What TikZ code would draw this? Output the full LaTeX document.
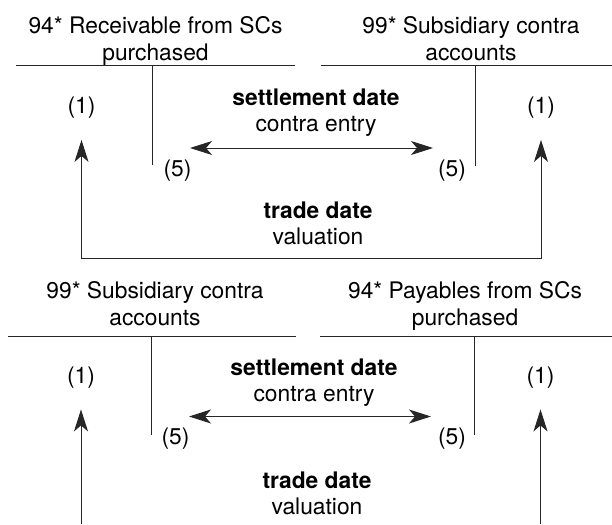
\documentclass[tikz,border=0pt]{standalone}
\usepackage{fontspec}
\setmainfont{TeX Gyre Heros}
\usetikzlibrary{arrows.meta}

\begin{document}
\begin{tikzpicture}[x=1pt,y=-1pt,
    font=\fontsize{22.8}{26.5}\selectfont,
    tline/.style={line width=1pt,black!85},
    arr/.style={line width=1pt,black!85,-{Stealth[length=22pt,width=14pt,inset=6pt]}},
    dbl/.style={line width=1pt,black!85,{Stealth[length=22pt,width=14pt,inset=6pt]}-{Stealth[length=22pt,width=14pt,inset=6pt]}}]

  \useasboundingbox (0,0) rectangle (612,524);

  % account titles and the two notes
  \begin{scope}[every node/.style={align=center,anchor=north,inner sep=0pt}]
    \node (accA) at (155.5,16.5) {94* Receivable from SCs\\purchased};
    \node (accB) at (471,16.5)   {99* Subsidiary contra\\accounts};
    \node (accC) at (155,281.5)  {99* Subsidiary contra\\accounts};
    \node (accD) at (465,281.5)  {94* Payables from SCs\\purchased};

    \node (setA)   at (316,88.5)  {\textbf{settlement date}\\contra entry};
    \node (tradeA) at (318,201.5) {\textbf{trade date}\\valuation};
    \node (setB)   at (314,358.5) {\textbf{settlement date}\\contra entry};
    \node (tradeB) at (317,471.5) {\textbf{trade date}\\valuation};
  \end{scope}

  % T-accounts
  \draw[tline] (16,66) -- (295,66) (152,66) -- (152,165);
  \draw[tline] (321,66) -- (612,66) (475,66) -- (475,166);
  \draw[tline] (8,336) -- (296,336) (151,336) -- (151,435);
  \draw[tline] (320,336) -- (612,336) (474,336) -- (474,435);

  % entries
  \begin{scope}[every node/.style={inner sep=0pt}]
    \node (oneA)  at (81.5,108)  {(1)};
    \node (fiveA) at (177.5,171) {(5)};
    \node (fiveB) at (452,171)   {(5)};
    \node (oneB)  at (541,108)   {(1)};
    \node (oneC)  at (81,377.5)  {(1)};
    \node (fiveC) at (175.5,439) {(5)};
    \node (fiveD) at (452,439)   {(5)};
    \node (oneD)  at (540.5,377.5) {(1)};
  \end{scope}

  \coordinate (sA1) at (190,148);
  \coordinate (sA2) at (433,148);
  \coordinate (sB1) at (189,416.5);
  \coordinate (sB2) at (431,416.5);
  \coordinate (tv)  at (0,258);
  \coordinate (bot) at (0,524);

  % settlement date
  \draw[dbl] (sA1) -- (sA2);
  \draw[dbl] (sB1) -- (sB2);

  % trade date
  \draw[dbl,shorten <=21pt,shorten >=21pt] (oneA.south) |- (tv -| oneB.south) -- (oneB.south);
  \draw[arr,shorten >=21pt] (oneC.south |- bot) -- (oneC.south);
  \draw[arr,shorten >=21pt] (oneD.south |- bot) -- (oneD.south);

\end{tikzpicture}
\end{document}
